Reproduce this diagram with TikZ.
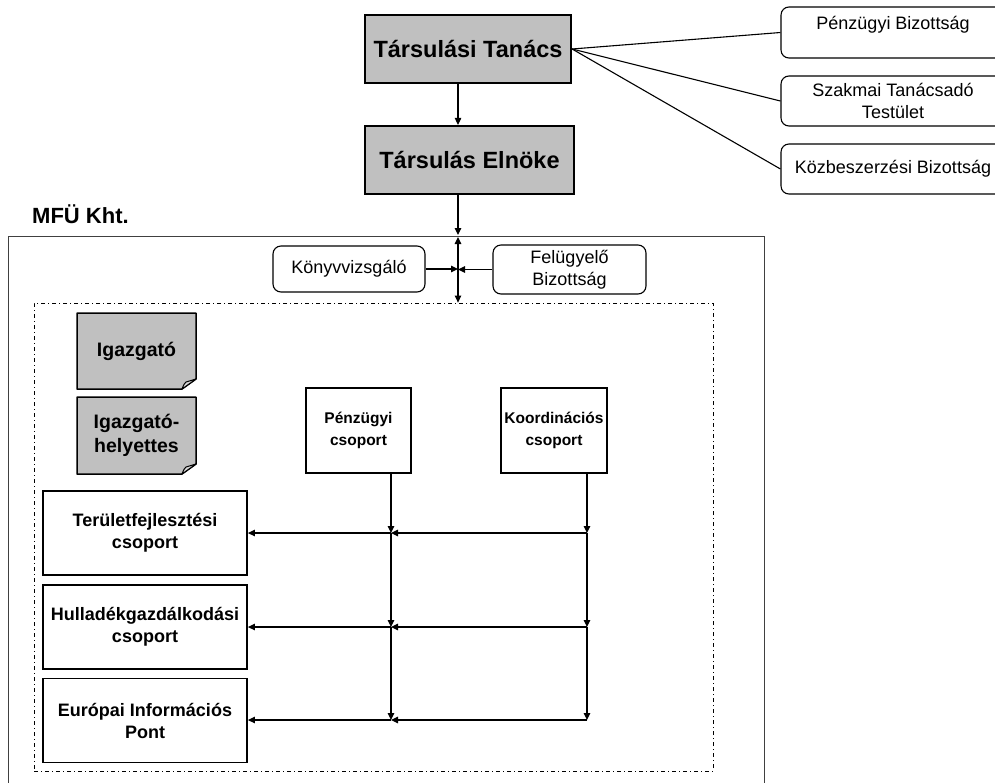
\documentclass[tikz,border=0pt]{standalone}
\usepackage{fontspec}
\setmainfont{Liberation Sans}
\usetikzlibrary{arrows.meta}
\definecolor{boxgray}{HTML}{C0C0C0}
\definecolor{foldgray}{HTML}{D6D6D6}
\definecolor{framegray}{HTML}{404040}

% gray note with a turned-down bottom right corner
\newcommand\foldnote[5]{%
  \filldraw[fill=boxgray, line width=1.5pt, line join=round]
    (#1,#2) -- (#3,#2) -- (#3,#4-10) -- (#3-14,#4) -- (#1,#4) -- cycle;
  \filldraw[fill=foldgray, line width=1pt, line join=round]
    (#3-14,#4) .. controls (#3-12,#4-5) .. (#3-10,#4-7) -- (#3,#4-10) -- cycle;
  \node[notetext] (#5) at ({(#1+#3)/2},{(#2+#4)/2}) {};
}

\begin{document}
\begin{tikzpicture}[x=1pt,y=-1pt,
  headbox/.style={draw, line width=2.2pt, fill=boxgray, inner sep=0pt,
    font=\fontsize{23.5}{28}\selectfont\bfseries},
  sidebox/.style={draw, line width=1.1pt, rounded corners=8pt, inner sep=0pt,
    align=center, font=\fontsize{18}{21.5}\selectfont},
  plaintext/.style={inner sep=0pt, align=center, font=\fontsize{18}{21.5}\selectfont},
  groupbox/.style={draw, line width=1.6pt, inner sep=0pt, align=center,
    font=\fontsize{18}{22}\selectfont\bfseries},
  smallgroup/.style={groupbox, font=\fontsize{15.5}{22}\selectfont\bfseries},
  notetext/.style={inner sep=0pt, align=center, font=\fontsize{19.5}{24}\selectfont\bfseries},
  link/.style={line width=1.1pt},
  tip/.tip={Triangle[length=7pt,width=6.5pt]},
  conn/.style={line width=1.1pt, -tip},
]
\useasboundingbox (0,0) rectangle (995,782);
\fill[white] (0,0) rectangle (995,782);

% association bodies
\node[headbox, minimum width=206pt, minimum height=68pt] (tt) at (468,49) {Társulási Tanács};
\node[headbox, minimum width=209pt, minimum height=68pt] (te) at (469.5,160) {Társulás Elnöke};

% committees on the right
\node[sidebox, minimum width=224pt, minimum height=51pt] (pb) at (893,32.5) {};
\node[plaintext] (pbt) at (893,25) {Pénzügyi Bizottság};
\node[sidebox, minimum width=224pt, minimum height=50pt] (szt) at (893,101) {Szakmai Tanácsadó\\Testület};
\node[sidebox, minimum width=224pt, minimum height=50pt] (kb) at (893,169) {Közbeszerzési Bizottság};

\draw[link] (tt.east) -- (pb.west);
\draw[link] (tt.east) -- (szt.west);
\draw[link] (tt.east) -- (kb.west);

% company frame
\node[draw=framegray, line width=1pt, minimum width=756pt, minimum height=570pt, inner sep=0pt]
  (mfubox) at (386,521) {};
\node[anchor=west, inner sep=0pt, font=\fontsize{22}{25}\selectfont\bfseries] (mfu) at (32,214) {MFÜ Kht.};
\node[draw, line width=0.8pt, dash pattern=on 4pt off 3pt on 1pt off 3pt,
  minimum width=679pt, minimum height=468pt, inner sep=0pt] (inner) at (373.5,537) {};

\coordinate (top) at (458,236);

\draw[conn] (tt.south -| top) -- (te.north -| top);
\draw[conn, shorten >=1pt] (te.south -| top) -- (top);

% auditor and supervisory board
\node[sidebox, minimum width=152pt, minimum height=46pt] (kv) at (349,269) {Könyvvizsgáló};
\node[sidebox, minimum width=153pt, minimum height=49pt] (fb) at (569.5,269.5) {Felügyelő\\Bizottság};

\draw[line width=1.1pt, tip-tip, shorten >=1pt] (inner.north -| top) -- (top);
\draw[conn] (kv.east) -- (kv.east -| top);
\draw[conn] (fb.west) -- (fb.west -| top);

% management
\foldnote{77}{313}{196}{389}{igt}
\node[notetext] (ig) at (igt) {Igazgató};
\foldnote{77}{397}{196}{474}{ight}
\node[notetext] (igh) at (ight) {Igazgató-\\helyettes};

% working groups
\node[smallgroup, minimum width=105pt, minimum height=85pt] (pcs) at (358.5,430.5) {Pénzügyi\\csoport};
\node[smallgroup, minimum width=106pt, minimum height=85pt] (kcs) at (554,430.5) {Koordinációs\\csoport};

\node[groupbox, line width=1.8pt, minimum width=204pt, minimum height=84pt] (tf) at (145,533) {Területfejlesztési\\csoport};
\node[groupbox, line width=1.8pt, minimum width=204pt, minimum height=84pt] (hg) at (145,627) {Hulladékgazdálkodási\\csoport};
\node[groupbox, line width=1.8pt, minimum width=204pt, minimum height=84pt] (eip) at (145,720.5) {Európai Információs\\Pont};

\coordinate (p1) at (391,533);
\coordinate (k1) at (587,533);
\coordinate (p2) at (391,627);
\coordinate (k2) at (587,627);
\coordinate (p3) at (391,720);
\coordinate (k3) at (587,720);

\draw[conn] (pcs.south -| p1) -- (p1);
\draw[conn] (kcs.south -| k1) -- (k1);
\draw[conn] (p1) -- (p2);
\draw[conn] (k1) -- (k2);
\draw[conn] (p2) -- (p3);
\draw[conn] (k2) -- (k3);

\draw[conn] (k1) -- (p1);
\draw[conn] (k2) -- (p2);
\draw[conn] (k3) -- (p3);
\draw[conn] (p1) -- (tf.east |- p1);
\draw[conn] (p2) -- (hg.east |- p2);
\draw[conn] (p3) -- (eip.east |- p3);
\end{tikzpicture}
\end{document}
